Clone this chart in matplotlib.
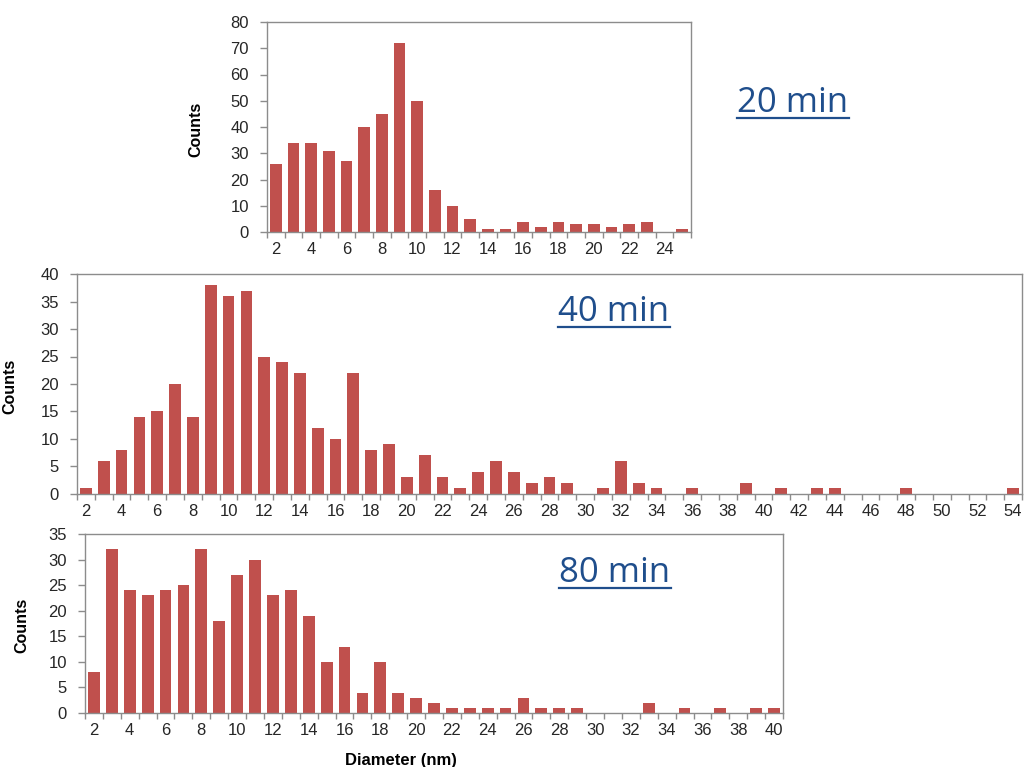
import matplotlib
matplotlib.use("Agg")
import matplotlib.pyplot as plt
from matplotlib.lines import Line2D

# Particle size histograms (counts per diameter bin, nm)
diam_20 = list(range(2, 26))
counts_20 = [26, 34, 34, 31, 27, 40, 45, 72, 50, 16, 10, 5, 1, 1, 4, 2, 4, 3, 3, 2, 3, 4, 0, 1]

diam_40 = list(range(2, 55))
counts_40 = [1, 6, 8, 14, 15, 20, 14, 38, 36, 37, 25, 24, 22, 12, 10, 22, 8, 9, 3, 7,
             3, 1, 4, 6, 4, 2, 3, 2, 0, 1, 6, 2, 1, 0, 1, 0, 0, 2, 0, 1,
             0, 1, 1, 0, 0, 0, 1, 0, 0, 0, 0, 0, 1]

diam_80 = list(range(2, 41))
counts_80 = [8, 32, 24, 23, 24, 25, 32, 18, 27, 30, 23, 24, 19, 10, 13, 4, 10, 4, 3, 2,
             1, 1, 1, 1, 3, 1, 1, 1, 0, 0, 0, 2, 0, 1, 0, 1, 0, 1, 1]

titles = ["20 min", "40 min", "80 min"]
ymax = [80, 40, 35]
ystep = [10, 5, 5]

W, H = 1029, 767
BAR = "#C0504D"
AXC = "#8C8C8C"
TXT = "#262626"
TITLE_C = "#1F4E8C"

plt.rcParams["font.family"] = ["Liberation Sans", "DejaVu Sans"]

fig = plt.figure(figsize=(W / 100, H / 100), dpi=100)


def add_axes_px(x0, x1, ytop, ybot):
    return fig.add_axes([x0 / W, 1 - ybot / H, (x1 - x0) / W, (ybot - ytop) / H])


def draw_hist(ax, diam, counts, top, step, label_x):
    n = len(diam)
    idx = list(range(n))
    ax.bar(idx, counts, width=0.66, color=BAR, edgecolor="none", zorder=2)
    ax.set_xlim(-0.5, n - 0.5)
    ax.set_ylim(0, top)
    # tick marks on bin boundaries, labels on every other bin
    ax.set_xticks([i - 0.5 for i in range(n + 1)])
    ax.set_xticklabels([])
    ax.set_xticks(idx[::2], minor=True)
    ax.set_xticklabels([str(d) for d in diam[::2]], minor=True)
    ax.tick_params(axis="x", which="major", direction="out", length=4, width=1, color=AXC)
    ax.tick_params(axis="x", which="minor", length=0, pad=7, labelsize=12, labelcolor=TXT)
    ax.set_yticks(list(range(0, top + 1, step)))
    ax.tick_params(axis="y", direction="out", length=5, width=1, color=AXC,
                   pad=8, labelsize=12, labelcolor=TXT)
    for s in ax.spines.values():
        s.set_color(AXC)
        s.set_linewidth(1.0)
    ax.set_ylabel("Counts", fontsize=11.5, fontweight="bold", color="black")
    ax.yaxis.set_label_coords(label_x, 0.49)


ax1 = add_axes_px(267, 691, 22, 232)
draw_hist(ax1, diam_20, counts_20, ymax[0], ystep[0], (203 - 267) / 424)

ax2 = add_axes_px(77, 1022, 274, 494)
draw_hist(ax2, diam_40, counts_40, ymax[1], ystep[1], (17 - 77) / 945)

ax3 = add_axes_px(85, 783, 534, 713)
draw_hist(ax3, diam_80, counts_80, ymax[2], ystep[2], (29 - 85) / 698)

fig.text(401 / W, 1 - 760 / H, "Diameter (nm)", ha="center", va="center",
         fontsize=12, fontweight="bold", color="black")

# Time labels, underlined
title_pos = [(793, 112), (614, 321), (615, 582)]
title_objs = []
for t, (cx, by) in zip(titles, title_pos):
    tx = fig.text(cx / W, 1 - by / H, t, ha="center", va="baseline",
                  fontsize=25, color=TITLE_C, family=["Open Sans", "DejaVu Sans"])
    title_objs.append((tx, by))

fig.canvas.draw()
renderer = fig.canvas.get_renderer()
for tx, by in title_objs:
    bb = tx.get_window_extent(renderer)
    yline = 1 - (by + 5.5) / H
    fig.add_artist(Line2D([bb.x0 / W, bb.x1 / W], [yline, yline],
                          transform=fig.transFigure, color=TITLE_C, linewidth=1.6))

fig.savefig("out.png", dpi=100, facecolor="white")
